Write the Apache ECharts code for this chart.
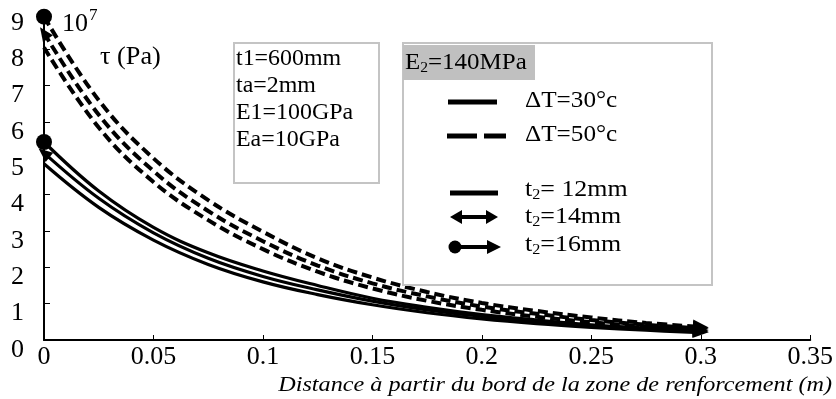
<!DOCTYPE html>
<html><head><meta charset="utf-8">
<script src="https://cdn.jsdelivr.net/npm/echarts@6/dist/echarts.min.js"></script>
<style>html,body{margin:0;padding:0;background:#fff}#c{width:836px;height:399px}</style>
</head><body><div id="c"></div>
<script>
// Distance (m)
const xs = [0, 0.025, 0.05, 0.075, 0.1, 0.125, 0.15, 0.175, 0.2, 0.225, 0.25, 0.275, 0.3];
// tau (x1e7 Pa), ΔT=30°c
const dT30_t12 = [4.85, 3.65, 2.75, 2.08, 1.60, 1.25, 0.97, 0.75, 0.58, 0.45, 0.35, 0.27, 0.20];
const dT30_t14 = [5.15, 3.90, 2.95, 2.25, 1.75, 1.38, 1.07, 0.83, 0.65, 0.50, 0.39, 0.30, 0.23];
const dT30_t16 = [5.45, 4.10, 3.10, 2.40, 1.90, 1.50, 1.15, 0.90, 0.70, 0.55, 0.42, 0.33, 0.26];
// tau (x1e7 Pa), ΔT=50°c
const dT50_t12 = [8.05, 5.85, 4.35, 3.30, 2.50, 1.88, 1.42, 1.08, 0.83, 0.64, 0.49, 0.37, 0.28];
const dT50_t14 = [8.45, 6.20, 4.65, 3.55, 2.72, 2.05, 1.56, 1.20, 0.92, 0.72, 0.55, 0.42, 0.32];
const dT50_t16 = [8.90, 6.60, 5.00, 3.85, 2.98, 2.25, 1.72, 1.32, 1.02, 0.80, 0.62, 0.47, 0.36];
const xTicks = {min: 0, max: 0.35, interval: 0.05};
const yTicks = {min: 0, max: 9, interval: 1};

const FONT = 'Liberation Serif, Times New Roman, serif';

function build(name, ys, dashed, startMark, endMark) {
  const n = ys.length;
  const data = ys.map((y, i) => {
    const item = {value: [xs[i], y]};
    if (i === 0 && startMark === 'circle') {
      item.symbol = 'circle'; item.symbolSize = 16;
    } else if (i === 0 && startMark === 'arrow') {
      const dx = 56, dy = (ys[0] - ys[1]) * 36.3;
      item.symbol = 'triangle'; item.symbolSize = [12, 14];
      item.symbolRotate = Math.atan2(dx, dy) * 180 / Math.PI;
    } else if (i === n - 1 && endMark === 'arrow') {
      item.symbol = 'triangle'; item.symbolSize = [14, 16];
      item.symbolRotate = -94;
    } else {
      item.symbol = 'none';
    }
    return item;
  });
  return {
    name, type: 'line', data, smooth: 0.4, clip: false,
    showSymbol: true, showAllSymbol: true, silent: true,
    itemStyle: {color: '#000'},
    lineStyle: dashed ? {color: '#000', width: 4, type: [10, 5]} : {color: '#000', width: 3.2},
    z: 3
  };
}

const series = [
  build('30_12', dT30_t12, false, null, null),
  build('30_14', dT30_t14, false, 'arrow', 'arrow'),
  build('30_16', dT30_t16, false, 'circle', 'arrow'),
  build('50_12', dT50_t12, true, null, null),
  build('50_14', dT50_t14, true, 'arrow', 'arrow'),
  build('50_16', dT50_t16, true, 'circle', 'arrow')
];

const chart = echarts.init(document.getElementById('c'));
const txt = (x, y, t, size, extra) => Object.assign({
  type: 'text', x, y, z: 10,
  style: Object.assign({text: t, font: size + 'px ' + FONT, fill: '#000', verticalAlign: 'middle'}, extra || {})
});
const richT2 = (x, y, rest) => ({
  type: 'text', x, y, z: 10, scaleX: 1.08,
  style: {
    text: '{a|t}{s|2}{a|' + rest + '}', verticalAlign: 'middle',
    rich: {
      a: {fontFamily: FONT, fontSize: 24, fill: '#000'},
      s: {fontFamily: FONT, fontSize: 15, fill: '#000', padding: [10, 0, 0, 0]}
    }
  }
});

chart.setOption({
  animation: false,
  backgroundColor: '#fff',
  grid: {left: 44, right: 5, top: 13, bottom: 59, containLabel: false},
  xAxis: {
    type: 'value', min: xTicks.min, max: xTicks.max, interval: xTicks.interval,
    axisLine: {lineStyle: {color: '#000', width: 2}},
    axisTick: {inside: true, length: 5, lineStyle: {color: '#000', width: 1}},
    splitLine: {show: false},
    axisLabel: {color: '#000', fontFamily: FONT, fontSize: 26, margin: 4,
      formatter: v => String(Math.round(v * 100) / 100)}
  },
  yAxis: {
    type: 'value', min: yTicks.min, max: yTicks.max, interval: yTicks.interval,
    axisLine: {lineStyle: {color: '#000', width: 2}},
    axisTick: {inside: true, length: 6, lineStyle: {color: '#000', width: 1}},
    splitLine: {show: false},
    axisLabel: {color: '#000', fontFamily: FONT, fontSize: 26, margin: 20,
      verticalAlign: 'top', lineHeight: 20}
  },
  series,
  graphic: [
    // 10^7 and tau
    {type: 'text', x: 62, y: 24, z: 10, style: {
      text: '{a|10}{b|7}', verticalAlign: 'middle',
      rich: {a: {fontFamily: FONT, fontSize: 26, fill: '#000'},
             b: {fontFamily: FONT, fontSize: 17, fill: '#000', padding: [0, 0, 16, 1]}}}},
    Object.assign(txt(100, 57, 'τ (Pa)', 25), {scaleX: 1.05}),
    // parameter box
    {type: 'rect', shape: {x: 234, y: 43, width: 145, height: 140}, z: 5,
      style: {fill: '#fff', stroke: '#c4c4c4', lineWidth: 2}},
    Object.assign(txt(236, 59, 't1=600mm', 23), {scaleX: 1.04}),
    Object.assign(txt(236, 86, 'ta=2mm', 23), {scaleX: 1.04}),
    Object.assign(txt(236, 113, 'E1=100GPa', 23), {scaleX: 1.04}),
    Object.assign(txt(236, 140, 'Ea=10GPa', 23), {scaleX: 1.04}),
    // legend box
    {type: 'rect', shape: {x: 403, y: 43, width: 309, height: 242}, z: 5,
      style: {fill: '#fff', stroke: '#c4c4c4', lineWidth: 2}},
    {type: 'rect', shape: {x: 403, y: 45, width: 132, height: 35}, z: 6,
      style: {fill: '#c0c0c0'}},
    {type: 'text', x: 405, y: 63, z: 10, scaleX: 1.04, style: {
      text: '{a|E}{s|2}{a|=140MPa}', verticalAlign: 'middle',
      rich: {a: {fontFamily: FONT, fontSize: 24, fill: '#000'},
             s: {fontFamily: FONT, fontSize: 15, fill: '#000', padding: [10, 0, 0, 0]}}}},
    {type: 'line', shape: {x1: 448, y1: 102, x2: 497, y2: 102}, z: 10, style: {stroke: '#000', lineWidth: 5}},
    Object.assign(txt(525, 101, 'ΔT=30°c', 24), {scaleX: 1.05}),
    {type: 'line', shape: {x1: 447, y1: 136, x2: 477, y2: 136}, z: 10, style: {stroke: '#000', lineWidth: 5}},
    {type: 'line', shape: {x1: 484, y1: 136, x2: 506, y2: 136}, z: 10, style: {stroke: '#000', lineWidth: 5}},
    Object.assign(txt(525, 135, 'ΔT=50°c', 24), {scaleX: 1.05}),
    {type: 'line', shape: {x1: 450, y1: 193, x2: 498, y2: 193}, z: 10, style: {stroke: '#000', lineWidth: 5}},
    richT2(525, 190, '= 12mm'),
    {type: 'line', shape: {x1: 458, y1: 217, x2: 490, y2: 217}, z: 10, style: {stroke: '#000', lineWidth: 4}},
    {type: 'polygon', shape: {points: [[450, 217], [462, 210], [462, 224]]}, z: 10, style: {fill: '#000'}},
    {type: 'polygon', shape: {points: [[498, 217], [486, 210], [486, 224]]}, z: 10, style: {fill: '#000'}},
    richT2(525, 217, '=14mm'),
    {type: 'circle', shape: {cx: 455, cy: 247, r: 6.5}, z: 10, style: {fill: '#000'}},
    {type: 'line', shape: {x1: 455, y1: 247, x2: 490, y2: 247}, z: 10, style: {stroke: '#000', lineWidth: 4}},
    {type: 'polygon', shape: {points: [[501, 247], [487, 240], [487, 254]]}, z: 10, style: {fill: '#000'}},
    richT2(525, 245, '=16mm'),
    // x-axis title
    {type: 'text', x: 832, y: 385, z: 10, scaleX: 1.1, style: {
      text: 'Distance à partir du bord de la zone de renforcement (m)',
      font: 'italic 22px ' + FONT, fill: '#000', align: 'right', verticalAlign: 'middle'}}
  ]
});
</script></body></html>
